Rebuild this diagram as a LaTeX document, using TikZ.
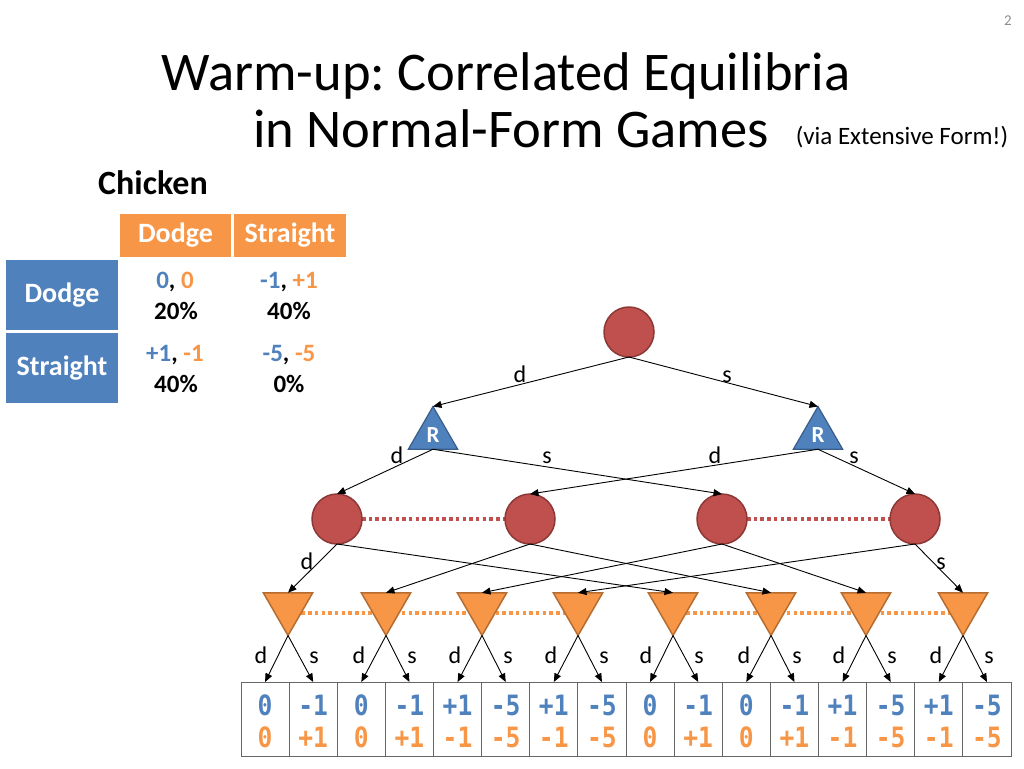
\documentclass[tikz,border=0pt]{standalone}
\usepackage{fontspec}
\setmainfont{Carlito}
\newfontfamily\monof[FakeStretch=0.88]{DejaVu Sans Mono}
\usetikzlibrary{shapes.geometric,arrows.meta,backgrounds}
\definecolor{cblue}{HTML}{4F81BD}
\definecolor{cblueD}{HTML}{385D8A}
\definecolor{corange}{HTML}{F79646}
\definecolor{corangeD}{HTML}{B66D31}
\definecolor{cred}{HTML}{C0504D}
\definecolor{credD}{HTML}{8C3836}
\definecolor{pgnum}{HTML}{8C8C8C}
\frenchspacing
\begin{document}
\begin{tikzpicture}[x=1pt,y=-1pt,
  chance/.style={circle, fill=cred, draw=credD, line width=1.5pt, minimum size=50pt, inner sep=0pt, outer sep=0pt},
  rtri/.style={regular polygon, regular polygon sides=3, fill=cblue, draw=cblueD, line width=1.2pt, minimum size=57pt, inner sep=0pt, outer sep=0pt, text=white, font=\bfseries\fontsize{23}{23}\selectfont},
  otri/.style={regular polygon, regular polygon sides=3, shape border rotate=180, fill=corange, draw=corangeD, line width=1.5pt, minimum size=57pt, inner sep=0pt, outer sep=0pt},
  arr/.style={-{Triangle[length=8.5pt,width=7pt]}, line width=0.9pt, black},
  lab/.style={font=\fontsize{24}{24}\selectfont, anchor=base, inner sep=0pt},
  rdot/.style={draw=cred, line width=3.5pt, dash pattern=on 3.5pt off 3.2pt},
  odot/.style={draw=corange, line width=3.5pt, dash pattern=on 3.5pt off 3.2pt},
  pcell/.style={draw=black!60, line width=0.8pt, minimum width=48.125pt, minimum height=74pt, inner sep=0pt, outer sep=0pt},
  ptxt/.style={font=\monof\bfseries\fontsize{28}{28}\selectfont, anchor=base, inner sep=0pt},
  hcell/.style={fill=corange, text=white, font=\bfseries\fontsize{28}{28}\selectfont, minimum height=43pt, inner sep=0pt},
  rcell/.style={fill=cblue, text=white, font=\bfseries\fontsize{28}{28}\selectfont, minimum width=112pt, minimum height=70pt, inner sep=0pt},
  ctxt/.style={font=\bfseries\fontsize{25}{25}\selectfont, anchor=base, inner sep=0pt},
]
\useasboundingbox (0,0) rectangle (1024,768);

% page number and titles
\node[anchor=base, text=pgnum, font=\fontsize{15}{15}\selectfont, inner sep=0pt] (pg) at (1008,26) {2};
\node[anchor=base, font=\fontsize{54.5}{54.5}\selectfont, inner sep=0pt] (title1) at (506,90) {Warm-up: Correlated Equilibria};
\node[anchor=base, font=\fontsize{54.5}{54.5}\selectfont, inner sep=0pt] (title2) at (511,147) {in Normal-Form Games};
\node[anchor=base, font=\fontsize{25}{25}\selectfont, inner sep=0pt] (via) at (902,144) {(via Extensive Form!)};
\node[anchor=base west, font=\bfseries\fontsize{34}{34}\selectfont, inner sep=0pt] (chick) at (98,194) {Chicken};

% payoff matrix
\node[hcell, minimum width=111pt] (hd) at (175.5,235.5) {Dodge};
\node[hcell, minimum width=112pt] (hs) at (290,235.5) {Straight};
\node[rcell] (rd) at (62,295) {Dodge};
\node[rcell] (rs) at (62,368) {Straight};
\node[ctxt] (v11) at (175,288) {\textcolor{cblue}{0}, \textcolor{corange}{0}};
\node[ctxt] (p11) at (176,319) {20\%};
\node[ctxt] (v12) at (289,288) {\textcolor{cblue}{-1}, \textcolor{corange}{+1}};
\node[ctxt] (p12) at (289,319) {40\%};
\node[ctxt] (v21) at (175,361) {\textcolor{cblue}{+1}, \textcolor{corange}{-1}};
\node[ctxt] (p21) at (176,392) {40\%};
\node[ctxt] (v22) at (289,361) {\textcolor{cblue}{-5}, \textcolor{corange}{-5}};
\node[ctxt] (p22) at (289,392) {0\%};

% tree nodes
\node[chance] (root) at (629,332) {};
\node[rtri] (Rl) at (433,435) {R};
\node[rtri] (Rr) at (818,435) {R};
\node[chance] (c1) at (337,519) {};
\node[chance] (c2) at (530,519) {};
\node[chance] (c3) at (722,519) {};
\node[chance] (c4) at (915,519) {};
\foreach \i/\x in {1/288,2/386,3/482,4/578,5/673,6/771,7/866,8/963}
  \node[otri] (T\i) at (\x,607) {};

% information sets
\begin{scope}[on background layer]
  \draw[rdot] (c1.east) -- (c2.west);
  \draw[rdot] (c3.east) -- (c4.west);
  \draw[odot] ([yshift=-6pt]T1.center) -- ([yshift=-6pt]T4.center);
  \draw[odot] ([yshift=-6pt]T5.center) -- ([yshift=-6pt]T8.center);
\end{scope}

% payoff cells
\foreach \k/\a/\b in {0/0/0,1/-1/+1,2/0/0,3/-1/+1,4/+1/-1,5/-5/-5,6/+1/-1,7/-5/-5,8/0/0,9/-1/+1,10/0/0,11/-1/+1,12/+1/-1,13/-5/-5,14/+1/-1,15/-5/-5} {
  \pgfmathsetmacro{\cx}{241+48.125*(\k+0.5)}
  \node[pcell] (P\k) at (\cx,719) {};
  \node[ptxt, text=cblue] (Pa\k) at (\cx,715) {\a};
  \node[ptxt, text=corange] (Pb\k) at (\cx,747) {\b};
}

% edges
\draw[arr] (root.south) -- (Rl.north);
\draw[arr] (root.south) -- (Rr.north);
\draw[arr] (Rl.south) -- (c1.north);
\draw[arr] (Rl.south) -- (c3.north);
\draw[arr] (Rr.south) -- (c2.north);
\draw[arr] (Rr.south) -- (c4.north);
\draw[arr] (c1.south) -- (T1.north);
\draw[arr] (c1.south) -- (T5.north);
\draw[arr] (c2.south) -- (T2.north);
\draw[arr] (c2.south) -- (T6.north);
\draw[arr] (c3.south) -- (T3.north);
\draw[arr] (c3.south) -- (T7.north);
\draw[arr] (c4.south) -- (T4.north);
\draw[arr] (c4.south) -- (T8.north);
\foreach \i/\x [evaluate=\i as \l using int(2*(\i-1)), evaluate=\i as \r using int(2*(\i-1)+1)] in {1/288,2/386,3/482,4/578,5/673,6/771,7/866,8/963} {
  \draw[arr] (T\i.south) -- (P\l.north);
  \draw[arr] (T\i.south) -- (P\r.north);
  \node[lab] (ld\i) at (\x-27,663) {d};
  \node[lab] (ls\i) at (\x+26,663) {s};
}

% edge labels
\node[lab] (e1) at (520,382) {d};
\node[lab] (e2) at (727,382) {s};
\node[lab] (e3) at (397,463) {d};
\node[lab] (e4) at (547,463) {s};
\node[lab] (e5) at (715,463) {d};
\node[lab] (e6) at (854,463) {s};
\node[lab] (e7) at (307,569) {d};
\node[lab] (e8) at (941,569) {s};
\end{tikzpicture}
\end{document}
